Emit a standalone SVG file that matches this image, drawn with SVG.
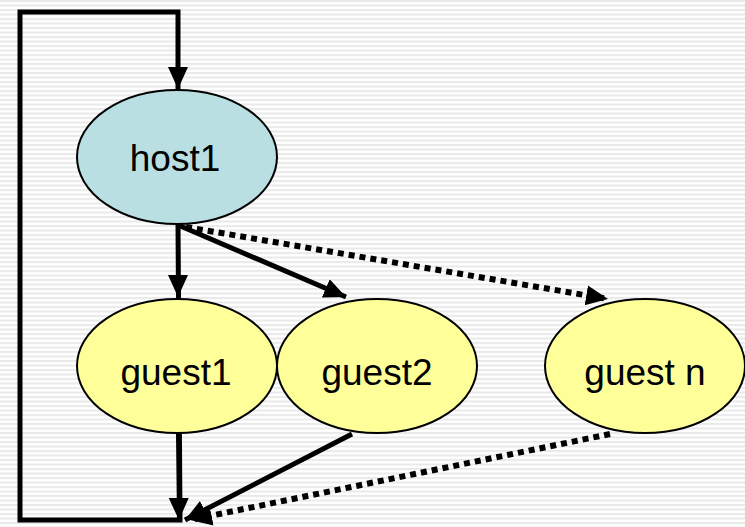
<svg xmlns="http://www.w3.org/2000/svg" width="745" height="527" viewBox="0 0 745 527">
<defs>
<pattern id="stripes" width="10" height="4.5" patternUnits="userSpaceOnUse">
<rect width="10" height="4.5" fill="#ffffff"/>
<rect y="0" width="10" height="2" fill="#e9e9e9"/>
</pattern>
<marker id="ah" markerUnits="userSpaceOnUse" markerWidth="24" markerHeight="24" viewBox="0 0 24 24" refX="22" refY="12" orient="auto">
<path d="M0,2 L22,12 L0,22 Z" fill="#000"/>
</marker>
<style>
.n{stroke:#000;stroke-width:2}
.host{fill:#b9dfe3}
.guest{fill:#ffff99}
.t{font-family:"Liberation Sans",Arial,sans-serif;font-size:37px;fill:#000;text-anchor:middle}
.c{fill:none;stroke:#000;stroke-linejoin:miter}
.s{stroke-width:5}
.d{stroke-width:6;stroke-dasharray:6 5}
</style>
</defs>
<rect width="745" height="527" fill="url(#stripes)"/>
<g id="connectors">
<path class="c s" d="M178,223 L180,520 L20,520 L20,12 L178,12 L178,89" marker-end="url(#ah)"/>
<path class="c s" d="M178,225 L178,297" marker-end="url(#ah)" style="stroke-width:4"/>
<path class="c s" d="M178,225 L346,297" marker-end="url(#ah)"/>
<path class="c d" d="M186,227 L608,299" marker-end="url(#ah)"/>
<path class="c s" d="M178,434 L179,520" marker-end="url(#ah)" style="stroke-width:4"/>
<path class="c s" d="M352,434 L185,520" marker-end="url(#ah)"/>
<path class="c d" d="M610,434 L190,520" marker-end="url(#ah)"/>
</g>
<g id="host1">
<ellipse class="n host" cx="177" cy="157" rx="100" ry="67"/>
<text class="t" x="175" y="171">host1</text>
</g>
<g id="guest1">
<ellipse class="n guest" cx="177" cy="366" rx="100" ry="67"/>
<text class="t" x="176" y="385">guest1</text>
</g>
<g id="guest2">
<ellipse class="n guest" cx="377" cy="366" rx="100" ry="67"/>
<text class="t" x="377" y="385">guest2</text>
</g>
<g id="guestn">
<ellipse class="n guest" cx="645" cy="366" rx="100" ry="67"/>
<text class="t" x="645" y="385">guest n</text>
</g>
</svg>
